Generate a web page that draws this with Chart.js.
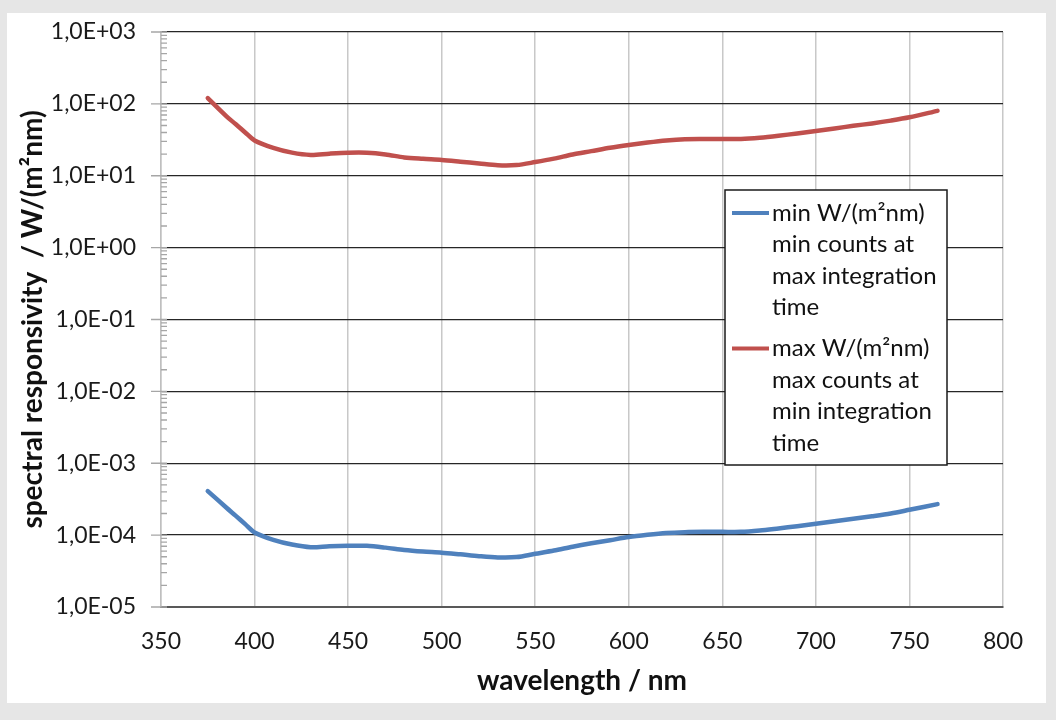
<!DOCTYPE html>
<html>
<head>
<meta charset="utf-8">
<script src="https://cdn.jsdelivr.net/npm/chart.js@4.4.1/dist/chart.umd.min.js"></script>
<style>
  body { margin: 0; background: #e6e6e6; }
  #panel { position: absolute; left: 7px; top: 13px; width: 1039px; height: 690px; background: #fff; }
</style>
</head>
<body>
<div id="panel"><canvas id="chart"></canvas></div>
<script>
// wavelength in nm
const wavelengths = [375, 385, 390, 395, 400, 410, 420, 430, 440, 450, 460, 470, 480, 490, 500,
  510, 520, 530, 540, 550, 560, 570, 580, 590, 600, 610, 620, 630, 640, 650, 660, 670, 680,
  690, 700, 710, 720, 730, 740, 750, 765];

// min W/(m²nm) - min counts at max integration time
const minValues = [4.1e-4, 2.4e-4, 1.85e-4, 1.42e-4, 1.09e-4, 8.6e-5, 7.4e-5, 6.8e-5, 7.0e-5, 7.1e-5,
  7.1e-5, 6.7e-5, 6.2e-5, 5.9e-5, 5.7e-5, 5.4e-5, 5.1e-5, 4.9e-5, 4.95e-5, 5.5e-5, 6.1e-5,
  6.9e-5, 7.7e-5, 8.5e-5, 9.4e-5, 1.01e-4, 1.07e-4, 1.10e-4, 1.11e-4, 1.11e-4, 1.11e-4,
  1.16e-4, 1.24e-4, 1.33e-4, 1.44e-4, 1.56e-4, 1.69e-4, 1.83e-4, 2.0e-4, 2.25e-4, 2.7e-4];

// max W/(m²nm) - max counts at min integration time
const maxValues = [120, 67, 52, 40, 31, 24.5, 21, 19.5, 20.3, 20.9, 20.9, 19.8, 18.0, 17.2, 16.6,
  15.7, 14.8, 14.0, 14.1, 15.5, 17.3, 19.8, 22.0, 24.5, 26.8, 29.0, 31.0, 32.3, 32.5, 32.5,
  32.5, 33.8, 36.0, 38.8, 42, 45.5, 49.5, 53.5, 58.5, 65, 80];

const seriesNames = [
  ['min W/(m²nm)', 'min counts at', 'max integration', 'time'],
  ['max W/(m²nm)', 'max counts at', 'min integration', 'time']
];
const seriesColors = ['#4f81bd', '#c0504d'];
const yExponents = [-5, -4, -3, -2, -1, 0, 1, 2, 3];

const FONT = 'Lato, "Noto Sans", sans-serif';

function fmtSci(v) {
  const parts = v.toExponential(1).split('e');
  const n = parseInt(parts[1], 10);
  return parts[0].replace('.', ',') + 'E' + (n < 0 ? '-' : '+') + String(Math.abs(n)).padStart(2, '0');
}

// minor/major tick marks on the log axis, drawn across the axis line like Excel
const logTicks = {
  id: 'logTicks',
  afterDraw(chart) {
    const ctx = chart.ctx, y = chart.scales.y, left = chart.chartArea.left;
    ctx.save();
    ctx.strokeStyle = '#a6a6a6';
    ctx.lineWidth = 1.3;
    ctx.beginPath();
    yExponents.forEach(e => {
      const py = y.getPixelForValue(Math.pow(10, e));
      ctx.moveTo(left - 10, py); ctx.lineTo(left + 6, py);
      if (e < 3) {
        for (let k = 2; k <= 9; k++) {
          const p = y.getPixelForValue(k * Math.pow(10, e));
          ctx.moveTo(left, p); ctx.lineTo(left + 6, p);
        }
      }
    });
    ctx.stroke();
    ctx.restore();
  }
};

// boxed legend with wrapped text
const boxLegend = {
  id: 'boxLegend',
  afterDraw(chart) {
    const ctx = chart.ctx, area = chart.chartArea;
    const bx = area.right - 278, by = area.top + 158, bw = 222, bh = 275;
    ctx.save();
    ctx.fillStyle = '#fff';
    ctx.fillRect(bx, by, bw, bh);
    ctx.strokeStyle = '#1a1a1a';
    ctx.lineWidth = 1.5;
    ctx.strokeRect(bx, by, bw, bh);
    ctx.font = '24px ' + FONT;
    ctx.fillStyle = '#111';
    ctx.textBaseline = 'middle';
    let ly = by + 23;
    chart.data.datasets.forEach((ds, i) => {
      ctx.strokeStyle = ds.borderColor;
      ctx.lineWidth = 4;
      ctx.beginPath();
      ctx.moveTo(bx + 7, ly); ctx.lineTo(bx + 44, ly);
      ctx.stroke();
      seriesNames[i].forEach((t, j) => {
        ctx.fillText(t, bx + 47, ly + j * 31.5);
      });
      ly += 3 * 31.5 + 41;
    });
    ctx.restore();
  }
};

const datasets = [minValues, maxValues].map((vals, i) => ({
  label: seriesNames[i].join(' '),
  data: wavelengths.map((w, j) => ({ x: w, y: vals[j] })),
  borderColor: seriesColors[i],
  backgroundColor: seriesColors[i],
  borderWidth: 4.5,
  pointRadius: 0,
  tension: 0.3,
  borderCapStyle: 'round',
  borderJoinStyle: 'round'
}));

new Chart(document.getElementById('chart'), {
  type: 'line',
  data: { datasets },
  options: {
    responsive: true,
    maintainAspectRatio: false,
    animation: false,
    layout: { padding: { top: 19, right: 43, left: 0, bottom: 0 } },
    plugins: { legend: { display: false }, tooltip: { enabled: false } },
    scales: {
      x: {
        type: 'linear',
        min: 350,
        max: 800,
        afterFit: s => { s.height = 96; },
        ticks: { stepSize: 50, padding: 3, color: '#1a1a1a', font: { family: FONT, size: 23 } },
        grid: { color: '#c8c8c8', lineWidth: 1.5, drawTicks: true, tickLength: 18, tickColor: 'rgba(0,0,0,0)' },
        border: { color: '#595959', width: 2 },
        title: {
          display: true, text: 'wavelength / nm', color: '#111',
          font: { family: FONT, size: 28, weight: 'bold' }, padding: { top: 0, bottom: 5 }
        }
      },
      y: {
        type: 'logarithmic',
        min: 1e-5,
        max: 1e3,
        afterFit: s => { s.width = 154; },
        afterBuildTicks: s => { s.ticks = yExponents.map(e => ({ value: Math.pow(10, e) })); },
        ticks: { padding: 3, color: '#1a1a1a', font: { family: FONT, size: 23 }, callback: v => fmtSci(v) },
        grid: { color: '#262626', lineWidth: 1.3, drawTicks: true, tickLength: 22, tickColor: 'rgba(0,0,0,0)' },
        border: { color: '#bfbfbf', width: 1.5 },
        title: {
          display: true, text: 'spectral responsivity  / W/(m²nm)', color: '#111',
          font: { family: FONT, size: 28, weight: 'bold' }, padding: { top: 9, bottom: 0 }
        }
      }
    }
  },
  plugins: [logTicks, boxLegend]
});
</script>
</body>
</html>
